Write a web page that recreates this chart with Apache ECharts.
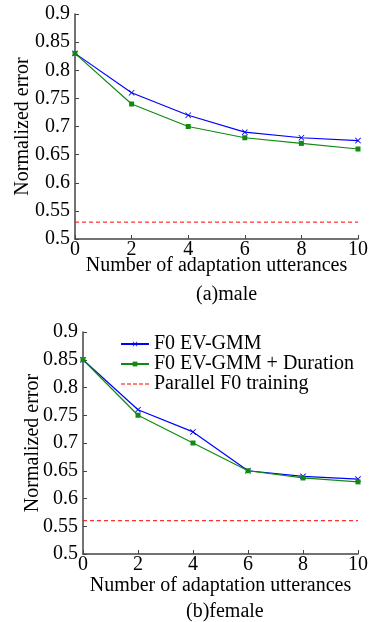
<!DOCTYPE html>
<html>
<head>
<meta charset="utf-8">
<script src="https://cdn.jsdelivr.net/npm/echarts@6/dist/echarts.min.js"></script>
<style>
  html, body { margin: 0; padding: 0; background: #fff; }
  #chart { width: 371px; height: 622px; }
</style>
</head>
<body>
<div id="chart"></div>
<script>
// x positions (number of adaptation utterances)
const utterances = [0, 2, 4, 6, 8, 10]

// (a) male
const maleEvGmm = [0.83, 0.76, 0.72, 0.69, 0.68, 0.675]
const maleEvGmmDur = [0.83, 0.74, 0.70, 0.68, 0.67, 0.66]
const maleParallel = [0.53, 0.53, 0.53, 0.53, 0.53, 0.53]

// (b) female
const femaleEvGmm = [0.85, 0.76, 0.72, 0.65, 0.64, 0.635]
const femaleEvGmmDur = [0.85, 0.75, 0.70, 0.65, 0.637, 0.63]
const femaleParallel = [0.56, 0.56, 0.56, 0.56, 0.56, 0.56]

const seriesNames = ["F0 EV-GMM", "F0 EV-GMM + Duration", "Parallel F0 training"]
const captions = ["(a)male", "(b)female"]

const FONT = "Liberation Serif, DejaVu Serif"
const crossSymbol = "path://M0,1L1,0L5,4L9,0L10,1L6,5L10,9L9,10L5,6L1,10L0,9L4,5Z"
// dashed line icon for the legend (no marker)
const dashIcon = "path://M0,0h4v1h-4zM6,0h4v1h-4zM12,0h4v1h-4zM18,0h4v1h-4zM24,0h4v1h-4z"

const pairs = (ys) => utterances.map((x, i) => [x, ys[i]])

const chartDom = document.getElementById("chart")
const myChart = echarts.init(chartDom)

const grids = [
  { left: 75, top: 14, width: 288, height: 225 },
  { left: 83, top: 332, width: 276, height: 222 },
]

function xAxisFor(idx, gap) {
  return {
    gridIndex: idx,
    type: "value",
    min: 0,
    max: 10,
    interval: 2,
    name: "Number of adaptation utterances",
    nameLocation: "middle",
    nameGap: gap,
    nameMoveOverlap: false,
    nameTextStyle: { fontFamily: FONT, fontSize: 20, color: "#000", verticalAlign: "top" },
    axisLine: { lineStyle: { color: "#444", width: 1.5 } },
    axisTick: { inside: true, length: 4, lineStyle: { color: "#444" } },
    axisLabel: { fontFamily: FONT, fontSize: 20, color: "#000", margin: 1, verticalAlign: "top" },
    splitLine: { show: false },
  }
}

function yAxisFor(idx, gap) {
  return {
    gridIndex: idx,
    type: "value",
    min: 0.5,
    max: 0.9,
    interval: 0.05,
    name: "Normalized error",
    nameLocation: "middle",
    nameGap: gap,
    nameMoveOverlap: false,
    nameTextStyle: { fontFamily: FONT, fontSize: 20, color: "#000" },
    axisLine: { show: true, lineStyle: { color: "#444", width: 1.5 } },
    axisTick: { show: true, inside: true, length: 4, lineStyle: { color: "#444" } },
    axisLabel: { fontFamily: FONT, fontSize: 20, color: "#000", margin: 5 },
    splitLine: { show: false },
  }
}

function seriesFor(idx, evGmm, evGmmDur, parallel) {
  return [
    {
      name: seriesNames[0],
      type: "line",
      xAxisIndex: idx,
      yAxisIndex: idx,
      data: pairs(evGmm),
      symbol: crossSymbol,
      symbolSize: 6,
      itemStyle: { color: "#0000ff" },
      lineStyle: { color: "#0000ff", width: 1.2 },
    },
    {
      name: seriesNames[1],
      type: "line",
      xAxisIndex: idx,
      yAxisIndex: idx,
      data: pairs(evGmmDur),
      symbol: "rect",
      symbolSize: 5,
      itemStyle: { color: "#108a10" },
      lineStyle: { color: "#108a10", width: 1.2 },
    },
    {
      name: seriesNames[2],
      type: "line",
      xAxisIndex: idx,
      yAxisIndex: idx,
      data: pairs(parallel),
      symbol: "none",
      itemStyle: { color: "#ff0000" },
      lineStyle: { color: "#ff0000", width: 1, type: [4, 3] },
    },
  ]
}

const option = {
  animation: false,
  backgroundColor: "#fff",
  grid: grids,
  xAxis: [xAxisFor(0, 17), xAxisFor(1, 22)],
  yAxis: [yAxisFor(0, 42), yAxisFor(1, 40)],
  legend: {
    data: [
      seriesNames[0],
      seriesNames[1],
      { name: seriesNames[2], icon: dashIcon },
    ],
    orient: "vertical",
    left: 115,
    top: 329,
    itemWidth: 28,
    itemHeight: 6,
    itemGap: 0,
    textStyle: { fontFamily: FONT, fontSize: 20, color: "#000", lineHeight: 20 },
  },
  graphic: [
    { type: "text", left: 196, top: 285, style: { text: captions[0], fontFamily: FONT, fontSize: 20, fill: "#000" } },
    { type: "text", left: 186, top: 602, style: { text: captions[1], fontFamily: FONT, fontSize: 20, fill: "#000" } },
  ],
  series: [
    ...seriesFor(0, maleEvGmm, maleEvGmmDur, maleParallel),
    ...seriesFor(1, femaleEvGmm, femaleEvGmmDur, femaleParallel),
  ],
}

myChart.setOption(option)
</script>
</body>
</html>
